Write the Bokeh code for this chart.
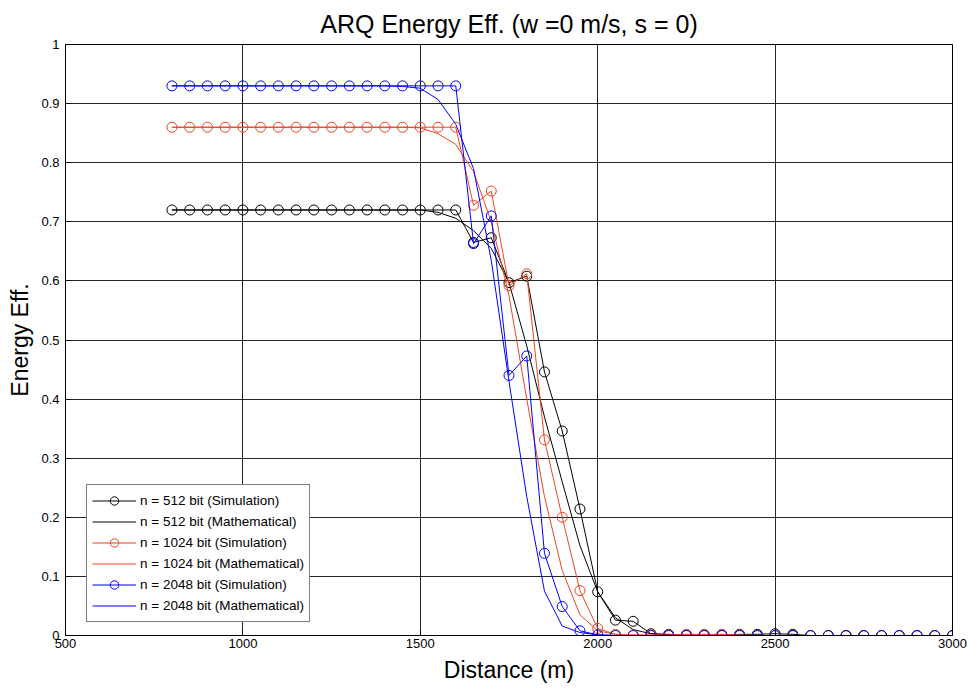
from bokeh.plotting import figure
from bokeh.models import Range1d, FixedTicker, Legend, LegendItem
from bokeh.embed import file_html
from bokeh.resources import INLINE

distance = [800, 850, 900, 950, 1000, 1050, 1100, 1150, 1200, 1250, 1300, 1350, 1400, 1450,
            1500, 1550, 1600, 1650, 1700, 1750, 1800, 1850, 1900, 1950, 2000, 2050, 2100,
            2150, 2200, 2250, 2300, 2350, 2400, 2450, 2500, 2550, 2600, 2650, 2700, 2750,
            2800, 2850, 2900, 2950, 3000]

sim_512 = [0.72] * 17 + [0.665, 0.673, 0.597, 0.608, 0.446, 0.346, 0.214, 0.074, 0.026, 0.024,
                         0.003, 0.002, 0.001, 0.001, 0.001, 0.002, 0.002, 0.003, 0.002] + [0.0] * 9
math_512 = [0.72] * 15 + [0.716, 0.706, 0.685, 0.655, 0.597, 0.49, 0.37, 0.26, 0.152, 0.074,
                          0.03, 0.01, 0.003, 0.001] + [0.0] * 16

sim_1024 = [0.86] * 17 + [0.728, 0.752, 0.592, 0.612, 0.331, 0.200, 0.076, 0.012, 0.002, 0.001,
                          0.001, 0.001, 0.002, 0.002, 0.002, 0.001, 0.0, 0.0, 0.0] + [0.0] * 9
math_1024 = [0.86] * 14 + [0.859, 0.849, 0.831, 0.785, 0.70, 0.575, 0.40, 0.235, 0.11, 0.035,
                           0.008, 0.002, 0.0] + [0.0] * 18

sim_2048 = [0.93] * 17 + [0.663, 0.710, 0.440, 0.473, 0.139, 0.049, 0.008, 0.001] + [0.0] * 20
math_2048 = [0.93] * 13 + [0.929, 0.926, 0.907, 0.865, 0.79, 0.635, 0.43, 0.235, 0.075, 0.016,
                           0.005, 0.001] + [0.0] * 20

x_ticks = [500, 1000, 1500, 2000, 2500, 3000]
y_ticks = [0, 0.1, 0.2, 0.3, 0.4, 0.5, 0.6, 0.7, 0.8, 0.9, 1]
y_tick_labels = ["0", "0.1", "0.2", "0.3", "0.4", "0.5", "0.6", "0.7", "0.8", "0.9", "1"]

series = [
    ("n = 512 bit", sim_512, math_512, "#000000"),
    ("n = 1024 bit", sim_1024, math_1024, "#EE4422"),
    ("n = 2048 bit", sim_2048, math_2048, "#0000FF"),
]

FONT = "Liberation Sans"

p = figure(width=969, height=689, output_backend="svg", toolbar_location=None,
           x_range=Range1d(500, 3000), y_range=Range1d(0, 1),
           title="ARQ Energy Eff. (w =0 m/s, s = 0)",
           x_axis_label="Distance (m)", y_axis_label="Energy Eff.")
p.min_border_left = 65
p.min_border_right = 17
p.min_border_top = 43
p.min_border_bottom = 54
p.background_fill_color = "white"
p.border_fill_color = "white"
p.outline_line_color = "black"
p.outline_line_width = 1

p.title.align = "center"
p.title.text_font = FONT
p.title.text_font_size = "25px"
p.title.text_font_style = "normal"
p.title.text_color = "black"
p.title.standoff = 14

for ax in (p.xaxis[0], p.yaxis[0]):
    ax.axis_label_text_font = FONT
    ax.axis_label_text_font_size = "23px"
    ax.axis_label_text_font_style = "normal"
    ax.axis_label_text_color = "black"
    ax.major_label_text_font = FONT
    ax.major_label_text_font_size = "13px"
    ax.major_label_text_color = "black"
    ax.major_tick_in = 5
    ax.major_tick_out = 0
    ax.minor_tick_line_color = None
    ax.axis_line_color = "black"
    ax.major_tick_line_color = "black"

p.xaxis[0].ticker = FixedTicker(ticks=x_ticks)
p.yaxis[0].ticker = FixedTicker(ticks=y_ticks)
p.yaxis[0].major_label_overrides = {t: l for t, l in zip(y_ticks, y_tick_labels)}
p.xaxis[0].major_label_standoff = 3
p.yaxis[0].major_label_standoff = 6
p.xaxis[0].axis_label_standoff = 6
p.yaxis[0].axis_label_standoff = 5

p.xgrid[0].ticker = FixedTicker(ticks=x_ticks)
p.ygrid[0].ticker = FixedTicker(ticks=y_ticks)
for g in (p.xgrid[0], p.ygrid[0]):
    g.grid_line_color = "black"
    g.grid_line_alpha = 0.85
    g.grid_line_width = 1

items = []
for name, sim, mth, col in series:
    ls = p.line(distance, sim, line_color=col, line_width=1)
    sc = p.scatter(distance, sim, marker="circle", size=10, fill_color=None,
                   line_color=col, line_width=1)
    lm = p.line(distance, mth, line_color=col, line_width=1)
    items.append(LegendItem(label=name + " (Simulation)", renderers=[ls, sc]))
    items.append(LegendItem(label=name + " (Mathematical)", renderers=[lm]))

legend = Legend(items=items, location=(21, 13))
legend.label_text_font = FONT
legend.label_text_font_size = "13.5px"
legend.label_text_color = "black"
legend.glyph_width = 44
legend.glyph_height = 21
legend.label_height = 21
legend.label_standoff = 4
legend.spacing = 0
legend.padding = 5
legend.margin = 0
legend.border_line_color = "black"
legend.border_line_width = 1
legend.background_fill_color = "white"
legend.background_fill_alpha = 1
p.add_layout(legend, "center")

open("out.html", "w").write(file_html(p, INLINE))
